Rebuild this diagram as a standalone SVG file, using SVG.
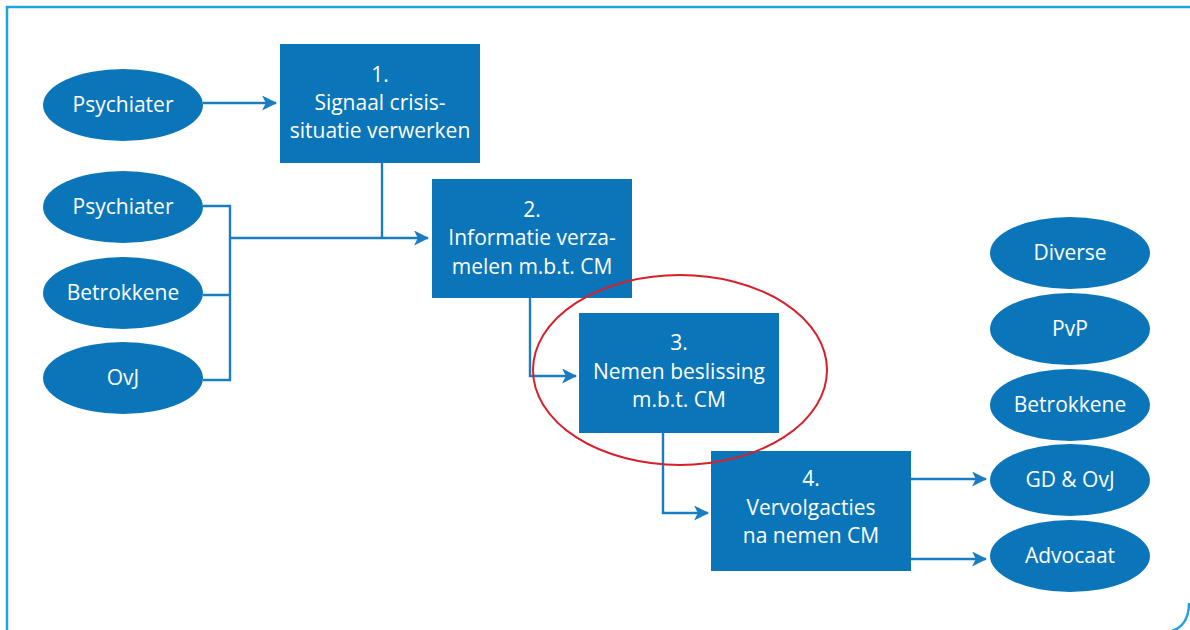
<svg xmlns="http://www.w3.org/2000/svg" width="1190" height="630" viewBox="0 0 1190 630">
<defs>
<style>
.frame{fill:none;stroke:#1fa3e0;stroke-width:2.5}
.box{fill:#0a76b9}
.ell{fill:#0a76b9}
.t{fill:#fff;font-family:"Open Sans","Liberation Sans",sans-serif;font-size:21px;text-anchor:middle}
.c{fill:none;stroke:#1a7dc2;stroke-width:2.4}
</style>
<marker id="ah" viewBox="0 0 14 14" refX="13" refY="7" markerWidth="15" markerHeight="15" markerUnits="userSpaceOnUse" orient="auto">
<path d="M0,0 L14,7 L0,14 L3.5,7 Z" fill="#1a7dc2"/>
</marker>
</defs>
<rect width="1190" height="630" fill="#fff"/>
<path class="frame" d="M7,632 L7,7 L1195,7"/>
<path class="frame" d="M1189,603 Q1189,628 1168,632"/>

<g id="connectors">
<path class="c" d="M203,103 H276" marker-end="url(#ah)"/>
<path class="c" d="M203,206 H230 V380 H203 M203,295 H230"/>
<path class="c" d="M382,163 V238"/>
<path class="c" d="M230,238 H428" marker-end="url(#ah)"/>
<path class="c" d="M530,298 V376 H576" marker-end="url(#ah)"/>
<path class="c" d="M663,433 V513 H708" marker-end="url(#ah)"/>
<path class="c" d="M911,479 H986" marker-end="url(#ah)"/>
<path class="c" d="M911,559 H986" marker-end="url(#ah)"/>
</g>

<g id="psychiater1"><ellipse class="ell" cx="123" cy="105" rx="80" ry="36"/><text class="t" x="123" y="112">Psychiater</text></g>
<g id="psychiater2"><ellipse class="ell" cx="123" cy="207" rx="80" ry="36"/><text class="t" x="123" y="214">Psychiater</text></g>
<g id="betrokkene1"><ellipse class="ell" cx="123" cy="293" rx="80" ry="36"/><text class="t" x="123" y="300">Betrokkene</text></g>
<g id="ovj"><ellipse class="ell" cx="123" cy="378" rx="80" ry="36"/><text class="t" x="123" y="385">OvJ</text></g>

<g id="step1"><rect class="box" x="280" y="44" width="200" height="119"/>
<text class="t" x="380" y="82">1.</text><text class="t" x="380" y="110">Signaal crisis-</text><text class="t" x="380" y="138">situatie verwerken</text></g>
<g id="step2"><rect class="box" x="432" y="179" width="200" height="119"/>
<text class="t" x="532" y="217">2.</text><text class="t" x="532" y="245">Informatie verza-</text><text class="t" x="532" y="274">melen m.b.t. CM</text></g>
<g id="step3"><rect class="box" x="579" y="313" width="200" height="120"/>
<text class="t" x="679" y="350">3.</text><text class="t" x="679" y="379">Nemen beslissing</text><text class="t" x="679" y="407">m.b.t. CM</text></g>
<g id="step4"><rect class="box" x="711" y="451" width="200" height="120"/>
<text class="t" x="811" y="486">4.</text><text class="t" x="811" y="515">Vervolgacties</text><text class="t" x="811" y="543">na nemen CM</text></g>

<g id="highlight"><ellipse cx="680" cy="370" rx="147" ry="95" fill="none" stroke="#d7202a" stroke-width="2"/></g>

<g id="diverse"><ellipse class="ell" cx="1070" cy="253" rx="80" ry="36"/><text class="t" x="1070" y="260">Diverse</text></g>
<g id="pvp"><ellipse class="ell" cx="1070" cy="329" rx="80" ry="36"/><text class="t" x="1070" y="336">PvP</text></g>
<g id="betrokkene2"><ellipse class="ell" cx="1070" cy="405" rx="80" ry="36"/><text class="t" x="1070" y="412">Betrokkene</text></g>
<g id="gdovj"><ellipse class="ell" cx="1070" cy="480" rx="80" ry="36"/><text class="t" x="1070" y="487">GD &amp; OvJ</text></g>
<g id="advocaat"><ellipse class="ell" cx="1070" cy="556" rx="80" ry="36"/><text class="t" x="1070" y="563">Advocaat</text></g>
</svg>
